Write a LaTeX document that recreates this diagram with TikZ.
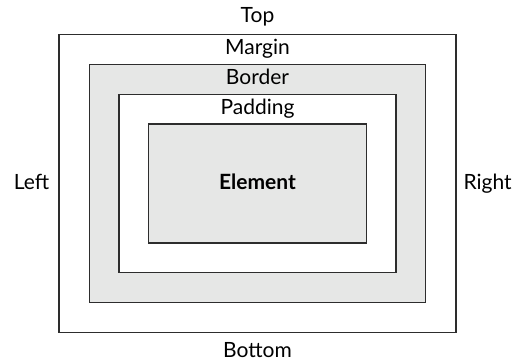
\documentclass[tikz,border=0pt]{standalone}
\usepackage{fontspec}
\setmainfont{Lato}
\usetikzlibrary{positioning}
\definecolor{boxfill}{RGB}{230,231,230}
\definecolor{boxline}{RGB}{45,45,45}

\begin{document}
\begin{tikzpicture}[
  x=1pt, y=-1pt,
  font=\fontsize{21}{25}\selectfont,
  layer/.style={draw=boxline, line width=1.2pt, inner sep=0pt, anchor=center},
  shade/.style={layer, fill=boxfill},
  plain/.style={layer, fill=white},
  lbl/.style={inner sep=0pt, anchor=base},
]
\useasboundingbox (0,0) rectangle (520,362);

\node[plain, minimum width=397pt, minimum height=298pt] (margin) at (257.5,183.5) {};
\node[shade, minimum width=336pt, minimum height=238pt] (border) at (257.5,183.5) {};
\node[plain, minimum width=277pt, minimum height=178pt] (padding) at (257.5,183.5) {};
\node[shade, minimum width=218pt, minimum height=119pt] (element) at (257.5,183.5) {};
\node[lbl] (elementlbl) at ([yshift=-5.8pt]element.center) {\bfseries Element};

\node[lbl] (top) at ([yshift=11pt]margin.north) {Top};
\node[lbl] (bottom) at ([yshift=-24pt]margin.south) {Bottom};
\node[lbl, anchor=base east] (left) at ([xshift=-9pt, yshift=-5.8pt]margin.west) {Left};
\node[lbl, anchor=base west] (right) at ([xshift=6.7pt, yshift=-5.8pt]margin.east) {Right};

\node[lbl] (marginlbl) at ([yshift=-20.7pt]margin.north) {Margin};
\node[lbl] (borderlbl) at ([yshift=-20.7pt]border.north) {Border};
\node[lbl] (paddinglbl) at ([yshift=-20.7pt]padding.north) {Padding};
\end{tikzpicture}
\end{document}
